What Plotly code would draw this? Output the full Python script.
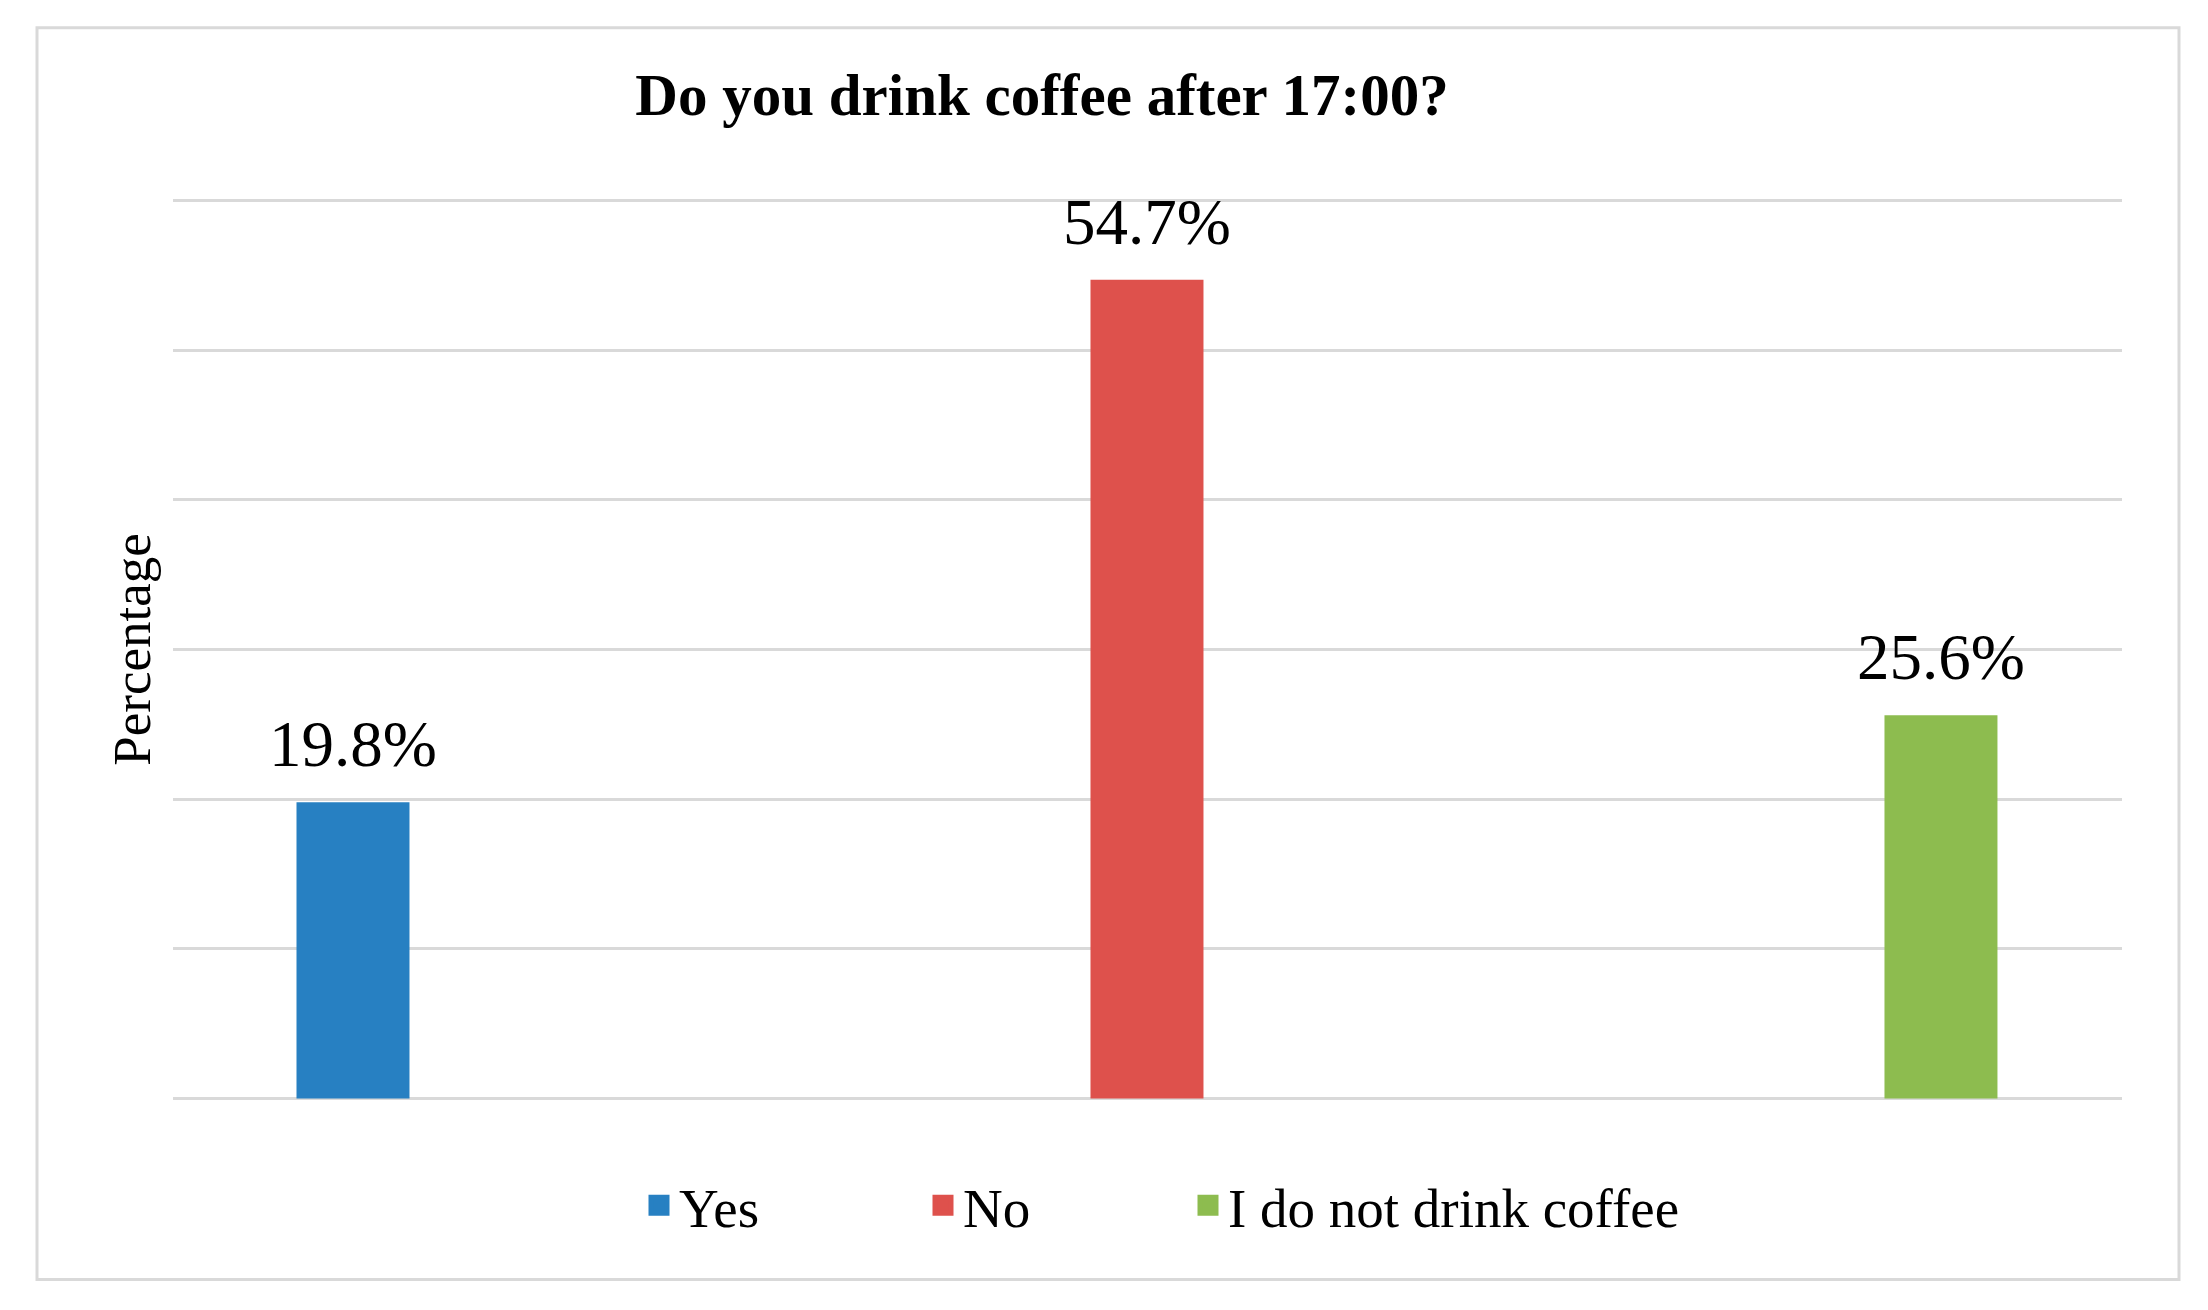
import plotly.graph_objects as go

categories = ["Yes", "No", "I do not drink coffee"]
values = [19.8, 54.7, 25.6]
labels = ["19.8%", "54.7%", "25.6%"]
colors = ["#2780c2", "#de514c", "#8dbc4f"]

W, H = 2208, 1310
PAD = 0.1  # small range padding so the 0 and 60 gridlines are drawn
ML, MR = 173, 86
MT, MB = 200.7 - 1.5, 211 - 1.5
PW, PH = W - ML - MR, H - MT - MB

FONT = "Liberation Serif"

fig = go.Figure()
for c, v, col in zip(categories, values, colors):
    fig.add_trace(go.Bar(
        x=[c], y=[v], name=c, width=0.1423, showlegend=False,
        marker=dict(color=col, line=dict(width=0)),
        hoverinfo="skip",
    ))

# legend entries (one legend per entry, to reproduce the spacing)
legend_ids = ["legend", "legend2", "legend3"]
legend_square_x = [659, 943, 1208]
for c, col, lid in zip(categories, colors, legend_ids):
    fig.add_trace(go.Scatter(
        x=[None], y=[None], name=c, mode="markers", legend=lid,
        marker=dict(symbol="square", size=16, color=col,
                    line=dict(color=col, width=5)),
        hoverinfo="skip",
    ))

for c, v, t in zip(categories, values, labels):
    fig.add_annotation(
        x=c, y=v, text=t, showarrow=False, xanchor="center", yanchor="bottom",
        yshift=20, font=dict(family=FONT, size=65, color="#000000"),
    )

def px_x(p):
    return (p - ML) / PW

def px_y(p):
    return (H - MB - p) / PH

fig.add_shape(type="rect", xref="paper", yref="paper",
              x0=px_x(37), x1=px_x(2179), y0=px_y(1280), y1=px_y(28),
              line=dict(color="#d9d9d9", width=3), fillcolor="rgba(0,0,0,0)",
              layer="below")

legend_font = dict(family=FONT, size=55, color="#000000")
legends = {}
for lid, sx in zip(legend_ids, legend_square_x):
    legends[lid] = dict(orientation="h", x=px_x(sx - 20), xanchor="left",
                        y=px_y(1206), yanchor="middle", font=legend_font,
                        bgcolor="rgba(0,0,0,0)", borderwidth=0)

fig.update_layout(
    width=W, height=H,
    margin=dict(l=ML, r=MR, t=MT, b=MB, autoexpand=False),
    paper_bgcolor="white", plot_bgcolor="white",
    barmode="overlay",
    title=dict(text="<b>Do you drink coffee after 17:00?</b>",
               font=dict(family=FONT, size=59, color="#000000"),
               x=1042 / W, xanchor="center", xref="container",
               y=1 - 94 / H, yanchor="middle", yref="container"),
    xaxis=dict(type="category", categoryorder="array", categoryarray=categories,
               range=[-0.2267, 2.228], showticklabels=False, showgrid=False,
               zeroline=False, showline=False, ticks=""),
    yaxis=dict(range=[0 - PAD, 60 + PAD], tickvals=[0, 10, 20, 30, 40, 50, 60],
               showticklabels=False, ticks="",
               showgrid=True, gridcolor="#d9d9d9", gridwidth=2.5,
               zeroline=False, showline=False,
               title=dict(text="Percentage", standoff=4,
                          font=dict(family=FONT, size=53, color="#000000"))),
    showlegend=True,
    **legends,
)

fig.write_html("out.html", config={"displayModeBar": False},
               post_script="document.body.style.margin='0';")
